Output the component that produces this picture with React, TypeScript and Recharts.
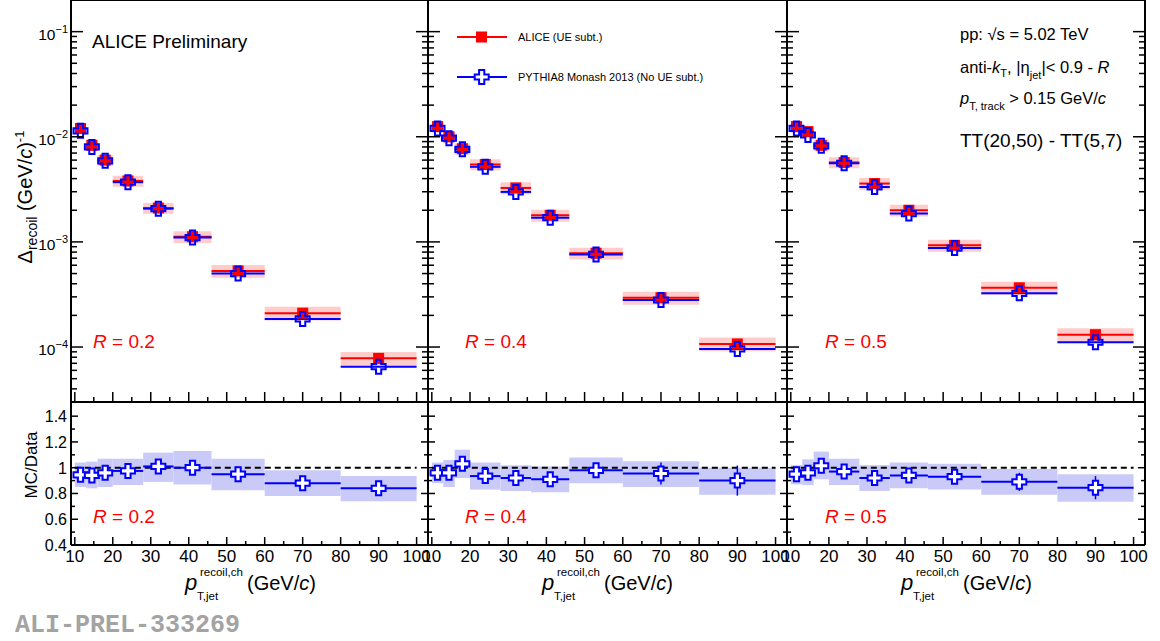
import React from "react";
import {
  ComposedChart,
  XAxis,
  YAxis,
  Scatter,
  ErrorBar,
  ReferenceArea,
  ReferenceLine,
  Legend,
} from "recharts";

// pT bins of the recoil jets (GeV/c)
const binLo = [10, 13, 16, 20, 28, 36, 46, 60, 80];
const binHi = [13, 16, 20, 28, 36, 46, 60, 80, 100];

// R = 0.2
const alice02 = [0.012, 0.0083, 0.006, 0.0038, 0.0021, 0.00112, 0.00053, 0.00021, 0.000078];
const pythia02 = [0.0114, 0.008, 0.0059, 0.0037, 0.00207, 0.0011, 0.0005, 0.000185, 0.000065];
const sys02 = [0.12, 0.12, 0.12, 0.12, 0.12, 0.13, 0.14, 0.15, 0.15];
const ratio02 = [0.945, 0.94, 0.96, 0.975, 1.01, 1.0, 0.95, 0.88, 0.84];
const ratioErr02 = [0.01, 0.01, 0.01, 0.01, 0.015, 0.015, 0.02, 0.03, 0.04];
const bandLo02 = [0.85, 0.84, 0.85, 0.865, 0.89, 0.87, 0.825, 0.78, 0.74];
const bandHi02 = [1.04, 1.047, 1.07, 1.07, 1.117, 1.13, 1.07, 0.98, 0.935];

// R = 0.4
const alice04 = [0.0125, 0.01, 0.0077, 0.00545, 0.00326, 0.00179, 0.00078, 0.000294, 0.000107];
const pythia04 = [0.012, 0.0097, 0.0076, 0.00518, 0.00299, 0.0017, 0.00076, 0.00028, 0.000096];
const sys04 = [0.12, 0.12, 0.12, 0.12, 0.13, 0.13, 0.13, 0.14, 0.15];
const ratio04 = [0.96, 0.96, 1.03, 0.935, 0.92, 0.91, 0.98, 0.955, 0.9];
const ratioErr04 = [0.01, 0.01, 0.015, 0.015, 0.02, 0.02, 0.03, 0.085, 0.117];
const bandLo04 = [0.88, 0.85, 0.92, 0.83, 0.82, 0.81, 0.88, 0.85, 0.79];
const bandHi04 = [1.04, 1.06, 1.14, 1.04, 1.02, 1.01, 1.08, 1.05, 1.0];

// R = 0.5
const alice05 = [0.0125, 0.0112, 0.0083, 0.0057, 0.00359, 0.002, 0.000927, 0.000366, 0.000131];
const pythia05 = [0.012, 0.0104, 0.0082, 0.0056, 0.00333, 0.00186, 0.000873, 0.000324, 0.000111];
const sys05 = [0.12, 0.12, 0.12, 0.12, 0.13, 0.13, 0.13, 0.14, 0.15];
const ratio05 = [0.95, 0.96, 1.015, 0.97, 0.92, 0.94, 0.93, 0.89, 0.845];
const ratioErr05 = [0.01, 0.01, 0.015, 0.015, 0.02, 0.02, 0.03, 0.07, 0.09];
const bandLo05 = [0.87, 0.865, 0.91, 0.865, 0.82, 0.84, 0.83, 0.79, 0.735];
const bandHi05 = [1.02, 1.065, 1.125, 1.07, 1.02, 1.04, 1.03, 0.99, 0.95];

// axis ticks
const xTicks = [10, 15, 20, 25, 30, 35, 40, 45, 50, 55, 60, 65, 70, 75, 80, 85, 90, 95, 100];
const logTicks = [
  4e-5, 5e-5, 6e-5, 7e-5, 8e-5, 9e-5,
  1e-4, 2e-4, 3e-4, 4e-4, 5e-4, 6e-4, 7e-4, 8e-4, 9e-4,
  1e-3, 2e-3, 3e-3, 4e-3, 5e-3, 6e-3, 7e-3, 8e-3, 9e-3,
  1e-2, 2e-2, 3e-2, 4e-2, 5e-2, 6e-2, 7e-2, 8e-2, 9e-2,
  1e-1,
];
const ratioTicks = [0.4, 0.5, 0.6, 0.7, 0.8, 0.9, 1.0, 1.1, 1.2, 1.3, 1.4];

const panels = [
  { r: "0.2", alice: alice02, pythia: pythia02, sys: sys02, ratio: ratio02, err: ratioErr02, lo: bandLo02, hi: bandHi02 },
  { r: "0.4", alice: alice04, pythia: pythia04, sys: sys04, ratio: ratio04, err: ratioErr04, lo: bandLo04, hi: bandHi04 },
  { r: "0.5", alice: alice05, pythia: pythia05, sys: sys05, ratio: ratio05, err: ratioErr05, lo: bandLo05, hi: bandHi05 },
];

const FONT = "'Liberation Sans', Arial, Helvetica, sans-serif";
const RED = "#ff0000";
const BLUE = "#0000ff";
const PINK = "#ffcccc";
const LAVENDER = "#cacaf8";
const AXIS_LINE = { stroke: "#000", strokeWidth: 2 };

const panelLeft = [71, 428, 787];
const panelWidth = [357, 359, 358];
const rLabelX = [93, 465, 825];
const AXIS_W = 70;
const EXTRA_R = 20; // room for the last tick label
const TOP_H = 402;
const RATIO_H = 143;

const isDecade = (v: number) => Math.abs(Math.log10(v) - Math.round(Math.log10(v))) < 1e-6;
const isTens = (v: number) => Math.round(v) % 10 === 0;
const isEvenTenth = (v: number) => Math.round(v * 10) % 2 === 0;

type Side = "left" | "right" | "top" | "bottom";

function tickRenderer(
  side: Side,
  isMajor: (v: number) => boolean,
  majorLen: number,
  minorLen: number,
  label?: (x: number, y: number, v: number) => React.ReactNode
) {
  return (props: any) => {
    const { x, y, payload } = props;
    const v = payload.value;
    const major = isMajor(v);
    const len = major ? majorLen : minorLen;
    const dx = side === "left" ? len : side === "right" ? -len : 0;
    const dy = side === "top" ? len : side === "bottom" ? -len : 0;
    return (
      <g>
        <line x1={x} y1={y} x2={x + dx} y2={y + dy} stroke="#000" strokeWidth={1.5} />
        {label && major ? label(x, y, v) : null}
      </g>
    );
  };
}

const logLabel = (x: number, y: number, v: number) => (
  <text x={x - 3} y={y + 8} textAnchor="end" fontSize={15.5} fontFamily={FONT} fill="#000">
    10
    <tspan dy={-7} fontSize={11}>{"\u2212" + Math.abs(Math.round(Math.log10(v)))}</tspan>
  </text>
);

const ratioLabel = (x: number, y: number, v: number) => (
  <text x={x - 4} y={y + 6} textAnchor="end" fontSize={16} fontFamily={FONT} fill="#000">
    {Math.abs(v - 1) < 1e-6 ? "1" : v.toFixed(1)}
  </text>
);

const xLabel = (x: number, y: number, v: number) => (
  <text x={x} y={y + 17} textAnchor="middle" fontSize={17} fontFamily={FONT} fill="#000">
    {v}
  </text>
);

function crossPath(cx: number, cy: number, s: number, a: number) {
  return `M${cx - a},${cy - s}L${cx + a},${cy - s}L${cx + a},${cy - a}L${cx + s},${cy - a}L${cx + s},${cy + a}L${cx + a},${cy + a}L${cx + a},${cy + s}L${cx - a},${cy + s}L${cx - a},${cy + a}L${cx - s},${cy + a}L${cx - s},${cy - a}L${cx - a},${cy - a}Z`;
}

const redSquare = (p: any) => <rect x={p.cx - 5.5} y={p.cy - 5.5} width={11} height={11} fill={RED} />;
const openCross = (fill: string) => (p: any) => (
  <path d={crossPath(p.cx, p.cy, 7, 2.6)} fill={fill} stroke={BLUE} strokeWidth={2} />
);

const legendContent = () => (
  <svg width={330} height={70} style={{ overflow: "visible" }}>
    <line x1={0} y1={12} x2={50} y2={12} stroke={RED} strokeWidth={2} />
    <rect x={19} y={6.5} width={11} height={11} fill={RED} />
    <text x={61} y={16} fontSize={11} fontFamily={FONT}>ALICE (UE subt.)</text>
    <line x1={0} y1={52} x2={50} y2={52} stroke={BLUE} strokeWidth={2} />
    <path d={crossPath(24.7, 52, 7, 2.6)} fill="#fff" stroke={BLUE} strokeWidth={2} />
    <text x={61} y={56} fontSize={11} fontFamily={FONT}>PYTHIA8 Monash 2013 (No UE subt.)</text>
  </svg>
);

function TopPanel({ idx }: { idx: number }) {
  const p = panels[idx];
  const mid = binLo.map((lo, i) => (lo + binHi[i]) / 2);
  const aliceData = mid.map((x, i) => ({ x, y: p.alice[i], xe: (binHi[i] - binLo[i]) / 2 }));
  const pythiaData = mid.map((x, i) => ({ x, y: p.pythia[i], xe: (binHi[i] - binLo[i]) / 2 }));
  const w = AXIS_W + panelWidth[idx] + 1 + EXTRA_R;
  return (
    <div style={{ position: "absolute", left: panelLeft[idx] - AXIS_W, top: -1 }}>
      <ComposedChart width={w} height={TOP_H + 2} margin={{ top: 0, right: EXTRA_R, bottom: 0, left: 0 }}>
        <XAxis
          type="number"
          dataKey="x"
          domain={[9, 103]}
          allowDataOverflow
          ticks={xTicks}
          interval={0}
          height={1}
          tickSize={0}
          tickMargin={0}
          axisLine={AXIS_LINE}
          tick={tickRenderer("bottom", isTens, 10, 5)}
        />
        <XAxis
          xAxisId="top"
          orientation="top"
          type="number"
          domain={[9, 103]}
          allowDataOverflow
          ticks={xTicks}
          interval={0}
          height={1}
          tickSize={0}
          tickMargin={0}
          axisLine={AXIS_LINE}
          tick={tickRenderer("top", isTens, 10, 5)}
        />
        <YAxis
          type="number"
          dataKey="y"
          scale="log"
          domain={[3e-5, 0.2]}
          allowDataOverflow
          ticks={logTicks}
          interval={0}
          width={AXIS_W}
          tickSize={0}
          tickMargin={0}
          axisLine={AXIS_LINE}
          tick={tickRenderer("left", isDecade, 12, 6, idx === 0 ? logLabel : undefined)}
        />
        <YAxis
          yAxisId="right"
          orientation="right"
          type="number"
          scale="log"
          domain={[3e-5, 0.2]}
          allowDataOverflow
          ticks={logTicks}
          interval={0}
          width={1}
          tickSize={0}
          tickMargin={0}
          axisLine={AXIS_LINE}
          tick={tickRenderer("right", isDecade, 12, 6)}
        />
        {binLo.map((lo, i) => (
          <ReferenceArea
            key={"sys" + i}
            x1={lo}
            x2={binHi[i]}
            y1={p.alice[i] * (1 - p.sys[i])}
            y2={p.alice[i] * (1 + p.sys[i])}
            fill={PINK}
            fillOpacity={1}
            stroke="none"
            ifOverflow="visible"
          />
        ))}
        <Scatter data={aliceData} isAnimationActive={false} shape={redSquare}>
          <ErrorBar dataKey="xe" direction="x" width={0} stroke={RED} strokeWidth={2} isAnimationActive={false} />
        </Scatter>
        <Scatter data={pythiaData} isAnimationActive={false} shape={openCross("none")}>
          <ErrorBar dataKey="xe" direction="x" width={0} stroke={BLUE} strokeWidth={2} isAnimationActive={false} />
        </Scatter>
        {idx === 1 ? (
          <Legend
            layout="vertical"
            align="center"
            verticalAlign="middle"
            content={legendContent}
            wrapperStyle={{ top: 25.7, left: 99, width: 330, height: 70 }}
          />
        ) : null}
      </ComposedChart>
    </div>
  );
}

function RatioPanel({ idx }: { idx: number }) {
  const p = panels[idx];
  const mid = binLo.map((lo, i) => (lo + binHi[i]) / 2);
  const ratioData = mid.map((x, i) => ({ x, y: p.ratio[i], xe: (binHi[i] - binLo[i]) / 2, ye: p.err[i] }));
  const w = AXIS_W + panelWidth[idx] + 1 + EXTRA_R;
  return (
    <div style={{ position: "absolute", left: panelLeft[idx] - AXIS_W, top: TOP_H - 1 }}>
      <ComposedChart width={w} height={RATIO_H + 46} margin={{ top: 0, right: EXTRA_R, bottom: 0, left: 0 }}>
        <XAxis
          type="number"
          dataKey="x"
          domain={[9, 103]}
          allowDataOverflow
          ticks={xTicks}
          interval={0}
          height={45}
          tickSize={0}
          tickMargin={0}
          axisLine={AXIS_LINE}
          tick={tickRenderer("bottom", isTens, 8, 4, xLabel)}
        />
        <XAxis
          xAxisId="top"
          orientation="top"
          type="number"
          domain={[9, 103]}
          allowDataOverflow
          ticks={xTicks}
          interval={0}
          height={1}
          tickSize={0}
          tickMargin={0}
          axisLine={AXIS_LINE}
          tick={tickRenderer("top", isTens, 6, 3)}
        />
        <YAxis
          type="number"
          dataKey="y"
          domain={[0.4, 1.51]}
          allowDataOverflow
          ticks={ratioTicks}
          interval={0}
          width={AXIS_W}
          tickSize={0}
          tickMargin={0}
          axisLine={AXIS_LINE}
          tick={tickRenderer("left", isEvenTenth, 7, 4, idx === 0 ? ratioLabel : undefined)}
        />
        <YAxis
          yAxisId="right"
          orientation="right"
          type="number"
          domain={[0.4, 1.51]}
          allowDataOverflow
          ticks={ratioTicks}
          interval={0}
          width={1}
          tickSize={0}
          tickMargin={0}
          axisLine={AXIS_LINE}
          tick={tickRenderer("right", isEvenTenth, 7, 4)}
        />
        {binLo.map((lo, i) => (
          <ReferenceArea
            key={"band" + i}
            x1={lo}
            x2={binHi[i]}
            y1={p.lo[i]}
            y2={p.hi[i]}
            fill={LAVENDER}
            fillOpacity={1}
            stroke="none"
            ifOverflow="visible"
          />
        ))}
        <ReferenceLine
          segment={[
            { x: binLo[0], y: 1 },
            { x: binHi[binHi.length - 1], y: 1 },
          ]}
          stroke="#000"
          strokeWidth={2}
          strokeDasharray="6 4"
        />
        <Scatter data={ratioData} isAnimationActive={false} shape={openCross("#fff")}>
          <ErrorBar dataKey="xe" direction="x" width={0} stroke={BLUE} strokeWidth={2} isAnimationActive={false} />
          <ErrorBar dataKey="ye" direction="y" width={0} stroke={BLUE} strokeWidth={1.5} isAnimationActive={false} />
        </Scatter>
      </ComposedChart>
    </div>
  );
}

function XTitle({ left }: { left: number }) {
  return (
    <g fontFamily={FONT} fill="#000">
      <text x={left + 114} y={590} fontSize={22} fontStyle="italic">p</text>
      <text x={left + 129} y={576} fontSize={11.5}>recoil,ch</text>
      <text x={left + 126} y={600} fontSize={11.5}>T,jet</text>
      <text x={left + 176} y={590} fontSize={20}>
        (GeV/<tspan fontStyle="italic">c</tspan>)
      </text>
    </g>
  );
}

function Overlay() {
  return (
    <svg
      width={1160}
      height={641}
      style={{ position: "absolute", left: 0, top: 0, pointerEvents: "none" }}
      fontFamily={FONT}
    >
      <text transform="translate(32,197) rotate(-90)" textAnchor="middle" fontSize={20} fill="#000">
        {"\u0394"}
        <tspan fontSize={14} dy={5}>recoil</tspan>
        <tspan dy={-5}> (GeV/</tspan>
        <tspan fontStyle="italic">c</tspan>
        <tspan>)</tspan>
        <tspan fontSize={13} dy={-8}>-1</tspan>
      </text>
      <text transform="translate(37,465) rotate(-90)" textAnchor="middle" fontSize={17} fill="#000">
        MC/Data
      </text>

      <text x={92} y={48} fontSize={19} fill="#000">ALICE Preliminary</text>

      {panels.map((p, i) => (
        <g key={"r" + i} fill={RED} fontSize={19}>
          <text x={rLabelX[i]} y={348}>
            <tspan fontStyle="italic">R</tspan> = {p.r}
          </text>
          <text x={rLabelX[i]} y={523}>
            <tspan fontStyle="italic">R</tspan> = {p.r}
          </text>
        </g>
      ))}

      <g fill="#000">
        <text x={960} y={40} fontSize={16.5}>pp: {"\u221A"}s = 5.02 TeV</text>
        <text x={960} y={73} fontSize={16.5}>
          anti-<tspan fontStyle="italic">k</tspan>
          <tspan fontSize={11} dy={4}>T</tspan>
          <tspan dy={-4}>, |{"\u03B7"}</tspan>
          <tspan fontSize={11} dy={6}>jet</tspan>
          <tspan dy={-6}>|{"< 0.9 - "}</tspan>
          <tspan fontStyle="italic">R</tspan>
        </text>
        <text x={960} y={104} fontSize={16.5}>
          <tspan fontStyle="italic">p</tspan>
          <tspan fontSize={11} dy={6}>T, track</tspan>
          <tspan dy={-6}>{" > 0.15 GeV/"}</tspan>
          <tspan fontStyle="italic">c</tspan>
        </text>
        <text x={960} y={147} fontSize={19}>TT(20,50) - TT(5,7)</text>
      </g>

      {panelLeft.map((l) => (
        <XTitle key={"xt" + l} left={l} />
      ))}

      <text x={15} y={632} fontSize={25} fontWeight="bold" fontFamily="'Liberation Mono', 'Courier New', monospace" fill="#a3a3a3">
        ALI-PREL-333269
      </text>
    </svg>
  );
}

export default function App() {
  return (
    <div style={{ position: "fixed", left: 0, top: 0, width: 1160, height: 641, background: "#fff", overflow: "hidden" }}>
      {[0, 1, 2].map((i) => (
        <TopPanel key={"top" + i} idx={i} />
      ))}
      {[0, 1, 2].map((i) => (
        <RatioPanel key={"ratio" + i} idx={i} />
      ))}
      <Overlay />
    </div>
  );
}
